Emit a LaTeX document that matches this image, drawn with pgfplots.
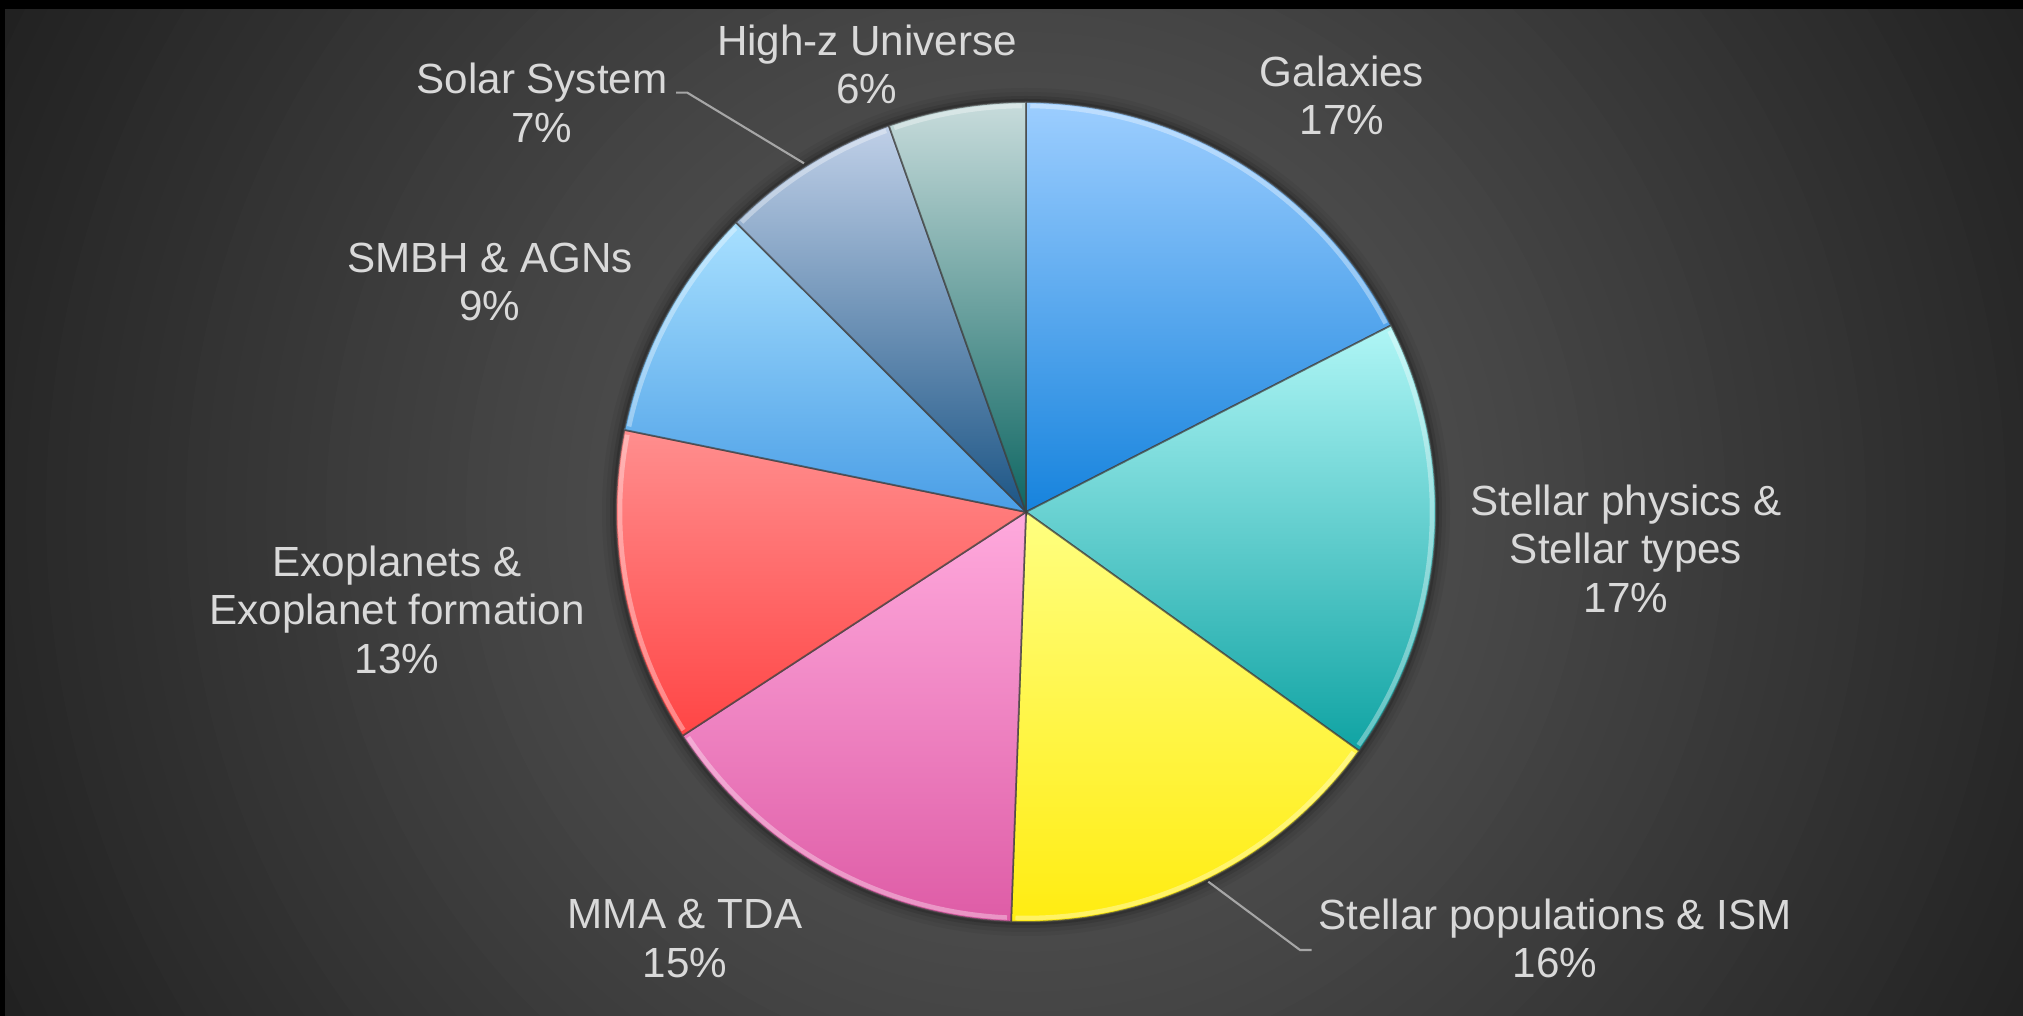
\documentclass[border=0pt]{standalone}
\usepackage{pgfplots}
\pgfplotsset{compat=1.18}
\usepackage{pgfplotstable}
\usepackage{fontspec}
\setmainfont{Liberation Sans}

\definecolor{lbl}{HTML}{D9D9D9}
\definecolor{lead}{HTML}{A6A6A6}
\definecolor{galT}{HTML}{9DCEFF}\definecolor{galB}{HTML}{1683DD}
\definecolor{sphT}{HTML}{B0F6F6}\definecolor{sphB}{HTML}{0FA3A3}
\definecolor{spoT}{HTML}{FFFF80}\definecolor{spoB}{HTML}{FFEC10}
\definecolor{mmaT}{HTML}{FFAADD}\definecolor{mmaB}{HTML}{DE5CA6}
\definecolor{exoT}{HTML}{FF8E8E}\definecolor{exoB}{HTML}{FF4545}
\definecolor{smbT}{HTML}{A8E0FF}\definecolor{smbB}{HTML}{4A9EE6}
\definecolor{solT}{HTML}{C0D0E8}\definecolor{solB}{HTML}{1C5585}
\definecolor{hizT}{HTML}{C8DCDC}\definecolor{hizB}{HTML}{0E6662}

% share of each topic (percent), clockwise from 12 o'clock
\pgfplotstableread{
topic value top bot
Galaxies 17.48 galT galB
StellarPhys 17.42 sphT sphB
StellarPop 15.68 spoT spoB
MMA 15.23 mmaT mmaB
Exoplanets 12.40 exoT exoB
SMBH 9.28 smbT smbB
Solar 7.08 solT solB
HighZ 5.43 hizT hizB
}\piedata

\def\cx{10.26}\def\cy{5.04}\def\R{4.10}

\newcommand\pieslice[4]{%
  \shadedraw[top color=#3, bottom color=#4, draw=black!75, draw opacity=0.7, line width=0.5pt]
    (axis cs:\cx,\cy) -- ++(#1:\R cm) arc[start angle=#1, end angle=#2, radius=\R cm] -- cycle;
  \draw[white, opacity=0.35, line width=0.45mm]
    (axis cs:\cx,\cy) ++(#1-0.6:4.06cm) arc[start angle=#1-0.6, end angle=#2+0.6, radius=4.06cm];
}

\begin{document}
\begin{tikzpicture}
% backdrop: banded radial grey
\fill[black!86] (-0.2,-0.2) rectangle (20.5,10.4);
\foreach \r in {1200,1180,...,400}{%
  \pgfmathtruncatemacro\g{75-0.057*(\r-420)}
  \definecolor{bgc}{RGB}{\g,\g,\g}
  \fill[bgc] (\cx,\cy) circle[radius=\r/100];
}
\fill[black] (-0.2,10.07) rectangle (20.5,10.4);
\fill[black] (-0.2,-0.2) rectangle (0.05,10.4);
% soft shadow round the pie
\fill[black, opacity=0.05] (\cx,\cy) circle[radius=4.24];
\fill[black, opacity=0.07] (\cx,\cy) circle[radius=4.20];
\fill[black, opacity=0.10] (\cx,\cy) circle[radius=4.16];
\fill[black, opacity=0.14] (\cx,\cy) circle[radius=4.13];

\begin{axis}[
  x=1cm, y=1cm,
  xmin=0, xmax=20.23, ymin=0, ymax=10.16,
  scale only axis,
  hide axis,
  clip=false,
]
\pgfplotstablegetrowsof{\piedata}
\pgfmathtruncatemacro\nrows{\pgfplotsretval-1}
\def\angA{90}
\pgfplotsforeachungrouped \i in {0,...,\nrows}{%
  \pgfplotstablegetelem{\i}{value}\of\piedata \let\v\pgfplotsretval
  \pgfplotstablegetelem{\i}{top}\of\piedata \let\ct\pgfplotsretval
  \pgfplotstablegetelem{\i}{bot}\of\piedata \let\cb\pgfplotsretval
  \pgfmathsetmacro\angB{\angA-3.6*\v}
  \edef\temp{\noexpand\pieslice{\angA}{\angB}{\ct}{\cb}}
  \temp
  \global\let\angA\angB
}

% leader lines
\draw[lead, line width=0.6pt] (axis cs:6.76,9.233) -- (axis cs:6.873,9.233) -- (axis cs:8.04,8.527);
\draw[lead, line width=0.6pt] (axis cs:12.083,1.343) -- (axis cs:13.0,0.66) -- (axis cs:13.117,0.66);

\begin{scope}[every node/.style={text=lbl, align=center, font=\fontsize{12}{13.8}\selectfont}]
\node at (axis cs:13.42,9.205) {Galaxies\\17\%};
\node at (axis cs:16.26,4.675) {Stellar physics \&\\Stellar types\\17\%};
\node at (axis cs:15.55,0.775) {Stellar populations \& ISM\\16\%};
\node at (axis cs:6.85,0.775) {MMA \& TDA\\15\%};
\node at (axis cs:3.97,4.065) {Exoplanets \&\\Exoplanet formation\\13\%};
\node at (axis cs:4.90,7.34) {SMBH \& AGNs\\9\%};
\node at (axis cs:5.42,9.13) {Solar System\\7\%};
\node at (axis cs:8.67,9.515) {High-z Universe\\6\%};
\end{scope}
\end{axis}
\pgfresetboundingbox
\useasboundingbox (0,0) rectangle (20.23,10.16);
\end{tikzpicture}
\end{document}
